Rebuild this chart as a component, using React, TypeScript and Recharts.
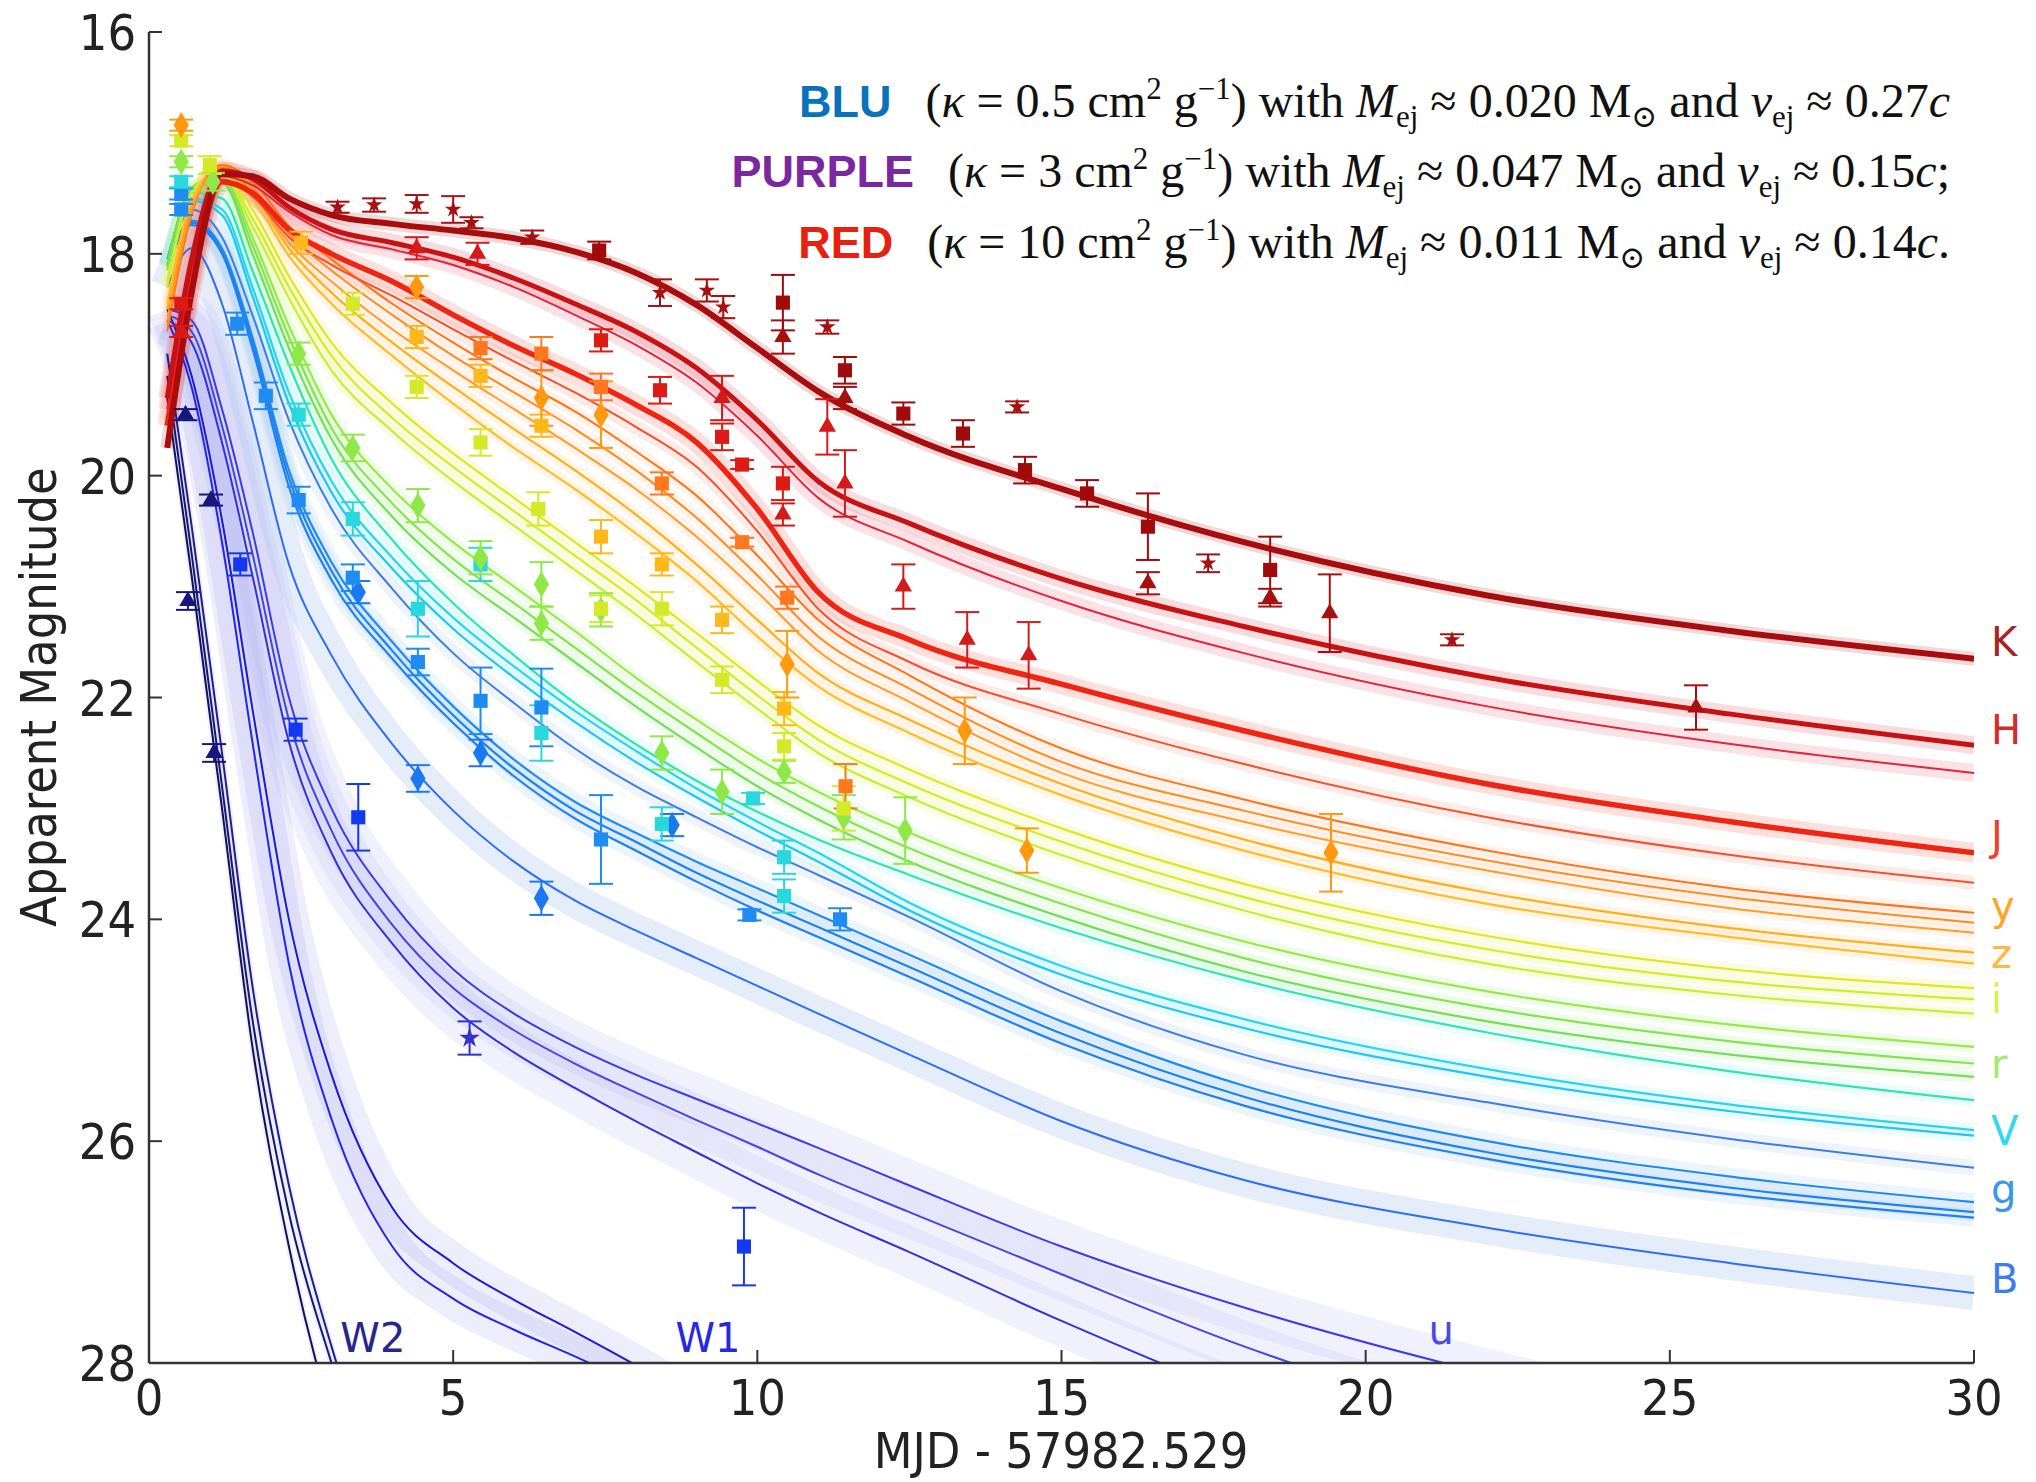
import React from 'react';
import { ComposedChart, Line, Scatter, XAxis, YAxis, ZAxis, ErrorBar, ReferenceDot } from 'recharts';

if (typeof document !== 'undefined') document.body.style.margin = '0';

const W = 2036;
const H = 1482;
const AXIS_FONT = "'DejaVu Sans Condensed', 'DejaVu Sans', sans-serif";
const SERIF = "'Liberation Serif', 'DejaVu Serif', serif";

// ---- model grid (days since merger) ----
const DAYS = [0.3, 0.7, 1.2, 1.7, 2.3, 3, 4, 5, 6, 7, 8, 9, 10, 11, 12.5, 15, 18, 22, 26, 30];
const X_TICKS = [0, 5, 10, 15, 20, 25, 30];
const Y_TICKS = [16, 18, 20, 22, 24, 26, 28];

// ---- model light curves (apparent magnitude on DAYS) ----
const K_MODEL = [19.75, 18.35, 17.28, 17.3, 17.5, 17.65, 17.73, 17.79, 17.86, 17.98, 18.17, 18.46, 18.85, 19.24, 19.65, 20.12, 20.6, 21.08, 21.4, 21.65];
const H_MODEL = [
  [19.3, 18.05, 17.25, 17.32, 17.58, 17.78, 17.9, 18.03, 18.22, 18.45, 18.7, 19.03, 19.5, 20.05, 20.43, 20.93, 21.36, 21.82, 22.15, 22.43],
  [19.4, 18.15, 17.3, 17.38, 17.62, 17.83, 17.96, 18.1, 18.3, 18.55, 18.82, 19.16, 19.64, 20.2, 20.6, 21.13, 21.6, 22.08, 22.42, 22.68],
];
const J_MODEL = [
  [19.55, 18.3, 17.35, 17.45, 17.78, 18.0, 18.25, 18.55, 18.83, 19.08, 19.36, 19.7, 20.3, 21.05, 21.48, 21.88, 22.3, 22.78, 23.12, 23.4],
  [19.5, 18.25, 17.33, 17.48, 17.85, 18.1, 18.38, 18.68, 18.97, 19.25, 19.56, 19.92, 20.5, 21.2, 21.68, 22.15, 22.6, 23.08, 23.42, 23.67],
];
const Y_MODEL = [
  [18.7, 17.65, 17.2, 17.35, 17.75, 18.05, 18.45, 18.8, 19.12, 19.42, 19.78, 20.18, 20.72, 21.3, 21.8, 22.46, 22.92, 23.38, 23.72, 23.94],
  [18.65, 17.62, 17.22, 17.4, 17.82, 18.15, 18.55, 18.92, 19.25, 19.58, 19.95, 20.38, 20.9, 21.45, 21.92, 22.58, 23.02, 23.47, 23.8, 24.03],
  [18.6, 17.6, 17.24, 17.45, 17.9, 18.25, 18.68, 19.05, 19.4, 19.75, 20.12, 20.55, 21.05, 21.58, 22.04, 22.68, 23.12, 23.56, 23.9, 24.12],
];
const Z_MODEL = [
  [18.5, 17.55, 17.2, 17.45, 17.95, 18.35, 18.8, 19.2, 19.58, 19.95, 20.35, 20.8, 21.3, 21.78, 22.2, 22.78, 23.28, 23.76, 24.08, 24.3],
  [18.45, 17.52, 17.22, 17.5, 18.02, 18.45, 18.92, 19.35, 19.75, 20.12, 20.52, 20.95, 21.45, 21.9, 22.32, 22.88, 23.38, 23.86, 24.16, 24.4],
];
const I_MODEL = [
  [18.3, 17.45, 17.25, 17.6, 18.2, 18.8, 19.35, 19.8, 20.2, 20.6, 21.0, 21.42, 21.85, 22.25, 22.65, 23.18, 23.68, 24.15, 24.45, 24.62],
  [18.28, 17.45, 17.28, 17.68, 18.3, 18.92, 19.48, 19.92, 20.32, 20.72, 21.12, 21.55, 21.98, 22.38, 22.78, 23.3, 23.8, 24.27, 24.56, 24.72],
  [18.25, 17.45, 17.3, 17.75, 18.4, 19.05, 19.6, 20.05, 20.45, 20.85, 21.25, 21.68, 22.1, 22.5, 22.9, 23.42, 23.92, 24.4, 24.68, 24.85],
];
const R_MODEL = [
  [18.15, 17.4, 17.3, 17.85, 18.65, 19.45, 20.12, 20.6, 21.0, 21.4, 21.82, 22.2, 22.55, 22.85, 23.22, 23.72, 24.2, 24.65, 24.95, 25.15],
  [18.12, 17.4, 17.33, 17.92, 18.75, 19.57, 20.25, 20.75, 21.15, 21.55, 21.95, 22.32, 22.68, 22.98, 23.36, 23.86, 24.35, 24.8, 25.1, 25.3],
  [18.1, 17.42, 17.36, 18.0, 18.85, 19.67, 20.37, 20.88, 21.28, 21.68, 22.08, 22.45, 22.8, 23.1, 23.48, 23.98, 24.47, 24.92, 25.22, 25.42],
];
const V_MODEL = [
  [18.1, 17.45, 17.5, 18.15, 19.0, 19.85, 20.58, 21.15, 21.62, 22.05, 22.42, 22.75, 23.03, 23.28, 23.6, 24.08, 24.55, 25.02, 25.37, 25.63],
  [18.05, 17.5, 17.6, 18.3, 19.25, 20.05, 20.74, 21.28, 21.72, 22.12, 22.48, 22.82, 23.12, 23.4, 23.85, 24.42, 24.9, 25.35, 25.67, 25.9],
  [18.05, 17.52, 17.65, 18.38, 19.35, 20.15, 20.84, 21.38, 21.82, 22.22, 22.58, 22.9, 23.2, 23.48, 23.92, 24.5, 24.98, 25.42, 25.73, 25.95],
];
const GB_MODEL = [18.1, 17.6, 17.85, 18.55, 19.5, 20.3, 21.02, 21.6, 22.05, 22.46, 22.8, 23.08, 23.35, 23.6, 23.98, 24.65, 25.22, 25.65, 25.98, 26.24];
const G_MODEL = [
  [18.1, 17.7, 17.95, 18.75, 19.95, 20.78, 21.5, 22.08, 22.56, 22.94, 23.22, 23.48, 23.72, 23.96, 24.32, 24.92, 25.5, 26.0, 26.32, 26.55],
  [18.1, 17.72, 17.98, 18.8, 20.02, 20.86, 21.58, 22.16, 22.64, 23.02, 23.3, 23.58, 23.83, 24.07, 24.43, 25.03, 25.6, 26.1, 26.42, 26.64],
  [18.12, 17.74, 18.0, 18.85, 20.1, 20.94, 21.65, 22.23, 22.71, 23.09, 23.38, 23.66, 23.92, 24.16, 24.52, 25.12, 25.68, 26.16, 26.48, 26.69],
];
const B_MODEL = [18.3, 17.95, 18.45, 19.5, 20.8, 21.62, 22.42, 23.02, 23.48, 23.83, 24.1, 24.35, 24.6, 24.85, 25.22, 25.82, 26.35, 26.78, 27.1, 27.37];
const U_MODEL = [
  [18.5, 18.6, 19.4, 20.5, 22.0, 23.0, 23.85, 24.45, 24.85, 25.15, 25.4, 25.62, 25.84, 26.06, 26.4, 26.95, 27.5, 28.1, 28.6, 29.0],
  [18.55, 18.7, 19.55, 20.7, 22.2, 23.2, 24.05, 24.62, 25.0, 25.3, 25.56, 25.81, 26.05, 26.3, 26.64, 27.2, 27.85, 28.55, 29.1],
  [18.6, 18.8, 19.7, 20.9, 22.4, 23.4, 24.22, 24.8, 25.2, 25.52, 25.82, 26.1, 26.38, 26.64, 27.0, 27.62, 28.3, 29.0],
];
const W1_MODEL = [
  [18.6, 19.2, 20.6, 22.4, 24.4, 25.8, 26.95, 27.42, 27.7, 27.94, 28.2, 28.5],
  [18.5, 19.1, 20.4, 22.1, 24.0, 25.4, 26.6, 27.1, 27.43, 27.72, 28.02, 28.35, 28.7],
];
const W2_MODEL = [
  [19.3, 20.9, 23.0, 25.15, 26.95, 28.5, 30.0],
  [19.1, 20.7, 22.8, 24.9, 26.65, 28.0, 29.6],
  [18.9, 20.45, 22.5, 24.6, 26.4, 27.85, 29.4],
];

// ---- photometry: [day, mag, error] ----
const K_STAR = [[3.1, 17.58, 0.05], [3.7, 17.56, 0.06], [4.4, 17.55, 0.08], [5.0, 17.6, 0.12], [5.3, 17.72, 0.05], [6.3, 17.85, 0.06], [8.4, 18.35, 0.12], [9.17, 18.33, 0.1], [9.44, 18.48, 0.1], [11.15, 18.66, 0.06], [14.27, 19.38, 0.05], [17.41, 20.79, 0.08], [21.42, 21.48, 0.05]];
const K_SQ = [[7.4, 17.97, 0.08], [10.42, 18.44, 0.25], [11.44, 19.05, 0.12], [12.4, 19.44, 0.1], [13.38, 19.62, 0.12], [14.4, 19.95, 0.12], [15.42, 20.16, 0.12], [16.42, 20.46, 0.3], [18.43, 20.85, 0.3]];
const K_TRI = [[10.42, 18.75, 0.15], [11.44, 19.3, 0.1], [16.42, 20.97, 0.1], [18.43, 21.1, 0.08], [19.41, 21.24, 0.35], [25.43, 22.09, 0.2]];
const H_SQ = [[0.53, 18.45, 0.05], [7.43, 18.78, 0.1], [8.4, 19.23, 0.12], [9.42, 19.65, 0.12], [10.42, 20.07, 0.15], [9.75, 19.9, 0.04]];
const H_TRI = [[0.53, 18.7, 0.05], [4.4, 17.95, 0.1], [5.4, 18.0, 0.1], [9.42, 19.3, 0.2], [10.42, 20.35, 0.1], [11.15, 19.56, 0.25], [11.44, 20.07, 0.3], [12.4, 21.0, 0.2], [13.45, 21.48, 0.25], [14.46, 21.62, 0.3]];
const Y_SQ = [[5.45, 18.85, 0.1], [6.45, 18.9, 0.15], [7.43, 19.2, 0.12], [8.43, 20.07, 0.1], [9.75, 20.6, 0.04], [10.49, 21.1, 0.1], [11.45, 22.8, 0.2]];
const Y_DIA = [[0.53, 16.84, 0.05], [4.4, 18.3, 0.1], [6.45, 19.3, 0.25], [7.43, 19.45, 0.3], [10.49, 21.7, 0.3], [13.41, 22.3, 0.3], [14.43, 23.38, 0.2], [19.43, 23.4, 0.35]];
const Z_SQ = [[2.5, 17.9, 0.1], [4.4, 18.75, 0.1], [5.45, 19.1, 0.1], [6.45, 19.55, 0.1], [7.43, 20.55, 0.15], [8.43, 20.8, 0.1], [9.42, 21.3, 0.12], [10.44, 22.1, 0.15]];
const I_SQ = [[0.53, 16.98, 0.05], [1.0, 17.2, 0.08], [3.35, 18.45, 0.1], [4.4, 19.2, 0.1], [5.45, 19.7, 0.12], [6.4, 20.3, 0.15], [7.43, 21.2, 0.12], [8.43, 21.2, 0.15], [9.42, 21.84, 0.12], [10.44, 22.44, 0.12], [11.42, 23.0, 0.2]];
const R_DIA = [[0.53, 17.17, 0.05], [1.05, 17.35, 0.08], [2.46, 18.9, 0.1], [3.35, 19.75, 0.12], [4.42, 20.27, 0.15], [5.45, 20.74, 0.15], [6.45, 20.98, 0.2], [6.45, 21.33, 0.15], [7.43, 21.21, 0.15], [8.43, 22.5, 0.15], [9.42, 22.85, 0.2], [10.44, 22.67, 0.1], [11.42, 23.08, 0.2], [12.43, 23.2, 0.3]];
const V_SQ = [[0.53, 17.35, 0.05], [2.46, 19.45, 0.1], [3.35, 20.39, 0.15], [4.42, 21.2, 0.25], [5.45, 20.8, 0.15], [6.45, 22.32, 0.25], [8.43, 23.14, 0.15], [9.93, 22.91, 0.05], [10.44, 23.44, 0.15], [10.44, 23.79, 0.15]];
const G_SQ = [[0.53, 17.46, 0.05], [0.53, 17.6, 0.05], [1.45, 18.63, 0.1], [1.92, 19.28, 0.12], [2.46, 20.22, 0.12], [3.35, 20.92, 0.12], [4.42, 21.68, 0.12], [5.45, 22.03, 0.3], [6.45, 22.09, 0.35], [7.43, 23.28, 0.4], [9.87, 23.96, 0.05], [11.36, 24.0, 0.1]];
const G_DIA = [[3.44, 21.05, 0.1], [4.42, 22.73, 0.12], [5.45, 22.5, 0.12], [6.45, 23.81, 0.15], [8.6, 23.15, 0.1]];
const B_SQ = [[1.5, 20.8, 0.1], [2.41, 22.29, 0.1], [3.44, 23.08, 0.3], [9.78, 26.95, 0.35]];
const U_STAR = [[5.27, 25.07, 0.15]];
const W2_TRI = [[0.6, 19.45, 0.05], [0.64, 21.13, 0.08], [1.02, 20.22, 0.05], [1.07, 22.5, 0.08]];

// ---- band labels ----
const BAND_NAMES = ['K', 'H', 'J', 'y', 'z', 'i', 'r', 'V', 'g', 'B'];
const BAND_MAGS = [21.5, 22.29, 23.25, 23.88, 24.31, 24.72, 25.3, 25.91, 26.43, 27.24];
const BAND_COLORS = ['#AA2424', '#D42C2C', '#F0402E', '#FFA424', '#FFB848', '#D8EE5C', '#A8E870', '#30D8F0', '#3A96F0', '#3C7CF0'];
const UV_NAMES = ['W2', 'W1', 'u'];
const UV_DAYS = [3.68, 9.19, 21.24];
const UV_MAGS = [27.77, 27.77, 27.7];
const UV_COLORS = ['#26268C', '#2828E0', '#4A4AE6'];

type Model = { key: string; vals: number[]; color: string; width: number; halo: string; haloW: number; haloOp: number };

// drawn bottom (blue) to top (red)
const MODELS: Model[] = [
  ...W2_MODEL.map((v, i) => ({ key: `w2${i}`, vals: v, color: ['#10105E', '#16167A', '#1E1E92'][i], width: 2, halo: '#8080c0', haloW: 6, haloOp: 0.12 })),
  ...W1_MODEL.map((v, i) => ({ key: `w1${i}`, vals: v, color: ['#2424EE', '#1C1CD0'][i], width: 2, halo: '#9c9cf0', haloW: 40, haloOp: 0.18 })),
  ...U_MODEL.map((v, i) => ({ key: `u${i}`, vals: v, color: ['#3C3CE6', '#4646DC', '#3232D8'][i], width: 2, halo: '#a8a8f0', haloW: 50, haloOp: 0.16 })),
  { key: 'b', vals: B_MODEL, color: '#2E6EF2', width: 2, halo: '#a8c4ee', haloW: 34, haloOp: 0.3 },
  ...G_MODEL.map((v, i) => ({ key: `g${i}`, vals: v, color: ['#1E8CF5', '#1A84EE', '#2080F0'][i], width: 2.2, halo: '#a8ccf4', haloW: 18, haloOp: 0.22 })),
  { key: 'gb', vals: GB_MODEL, color: '#3A7EE6', width: 2, halo: '#b0c8f0', haloW: 16, haloOp: 0.22 },
  ...V_MODEL.map((v, i) => ({ key: `v${i}`, vals: v, color: ['#2EE6A8', '#28D4EE', '#22C4F2'][i], width: 2.2, halo: '#a8f0f0', haloW: 14, haloOp: 0.22 })),
  ...R_MODEL.map((v, i) => ({ key: `r${i}`, vals: v, color: ['#98EA40', '#84E450', '#72DE5C'][i], width: 2.2, halo: '#c4f4b0', haloW: 12, haloOp: 0.25 })),
  ...I_MODEL.map((v, i) => ({ key: `i${i}`, vals: v, color: ['#E0E622', '#D2EC26', '#C6EE34'][i], width: 2.2, halo: '#eef4a0', haloW: 12, haloOp: 0.3 })),
  ...Z_MODEL.map((v, i) => ({ key: `z${i}`, vals: v, color: ['#FFAE1A', '#FFBC24'][i], width: 2.2, halo: '#ffd8a0', haloW: 12, haloOp: 0.25 })),
  ...Y_MODEL.map((v, i) => ({ key: `y${i}`, vals: v, color: ['#FF7418', '#FF8A1E', '#FF9C22'][i], width: 2, halo: '#ffc8a8', haloW: 12, haloOp: 0.22 })),
  { key: 'j1', vals: J_MODEL[1], color: '#F4502A', width: 2, halo: '#f8b0a0', haloW: 14, haloOp: 0.25 },
  { key: 'j0', vals: J_MODEL[0], color: '#F02412', width: 5.5, halo: '#f47060', haloW: 20, haloOp: 0.22 },
  { key: 'h1', vals: H_MODEL[1], color: '#E42438', width: 2, halo: '#f0a0b0', haloW: 18, haloOp: 0.3 },
  { key: 'h0', vals: H_MODEL[0], color: '#C81212', width: 5, halo: '#e06070', haloW: 18, haloOp: 0.22 },
  { key: 'k', vals: K_MODEL, color: '#A80C0C', width: 6, halo: '#c04040', haloW: 14, haloOp: 0.2 },
];

const ROWS = DAYS.map((d, i) => {
  const row: Record<string, number | null> = { day: d };
  MODELS.forEach((m) => { row[m.key] = m.vals[i] ?? null; });
  return row;
});

const toPts = (arr: number[][]) => arr.map(([day, mag, err]) => ({ day, mag, err }));

const SCATTERS = [
  { id: 'w2', pts: W2_TRI, color: '#16167E', shape: 'triangle', z: 'm' },
  { id: 'bsq', pts: B_SQ, color: '#1438F0', shape: 'square', z: 'l' },
  { id: 'ust', pts: U_STAR, color: '#3434C8', shape: 'star', z: 'm' },
  { id: 'gdi', pts: G_DIA, color: '#1A78F0', shape: 'diamond', z: 'l' },
  { id: 'gsq', pts: G_SQ, color: '#1E8CF0', shape: 'square', z: 'l' },
  { id: 'vsq', pts: V_SQ, color: '#28D8DC', shape: 'square', z: 'l' },
  { id: 'rdi', pts: R_DIA, color: '#8EE848', shape: 'diamond', z: 'l' },
  { id: 'isq', pts: I_SQ, color: '#D4EA28', shape: 'square', z: 'l' },
  { id: 'zsq', pts: Z_SQ, color: '#FFB81A', shape: 'square', z: 'l' },
  { id: 'ydi', pts: Y_DIA, color: '#FF9A10', shape: 'diamond', z: 'l' },
  { id: 'ysq', pts: Y_SQ, color: '#FF7820', shape: 'square', z: 'l' },
  { id: 'htr', pts: H_TRI, color: '#D41A1A', shape: 'triangle', z: 'm' },
  { id: 'hsq', pts: H_SQ, color: '#DC1C14', shape: 'square', z: 'l' },
  { id: 'ktr', pts: K_TRI, color: '#A51010', shape: 'triangle', z: 'm' },
  { id: 'ksq', pts: K_SQ, color: '#A00A0A', shape: 'square', z: 'l' },
  { id: 'kst', pts: K_STAR, color: '#A51010', shape: 'star', z: 's' },
];

const TICK_LEN = 13;
const FRAME = { stroke: '#333', strokeWidth: 2.5 };

const BottomTick = (p: any) => (
  <g>
    <line x1={p.x} y1={p.y} x2={p.x} y2={p.y - TICK_LEN} stroke="#333" strokeWidth={2} />
    <text x={p.x} y={p.y + 52} textAnchor="middle" fontSize={50} fontFamily={AXIS_FONT} fill="#222">{p.payload.value}</text>
  </g>
);
const LeftTick = (p: any) => (
  <g>
    <line x1={p.x} y1={p.y} x2={p.x + TICK_LEN} y2={p.y} stroke="#333" strokeWidth={2} />
    <text x={p.x - 13} y={p.y} dy="0.36em" textAnchor="end" fontSize={50} fontFamily={AXIS_FONT} fill="#222">{p.payload.value}</text>
  </g>
);
const TopTick = (p: any) => <line x1={p.x} y1={p.y} x2={p.x} y2={p.y + TICK_LEN} stroke="#333" strokeWidth={2} />;
const RightTick = (p: any) => <line x1={p.x} y1={p.y} x2={p.x - TICK_LEN} y2={p.y} stroke="#333" strokeWidth={2} />;

// annotation: segments with optional super/subscript shift
type Seg = { t: string; s?: 'sup' | 'sub'; i?: boolean };
const SHIFT = { sup: -18, sub: 10 };

const annSegs = (kappa: string, mass: string, vel: string, end: string): Seg[] => [
  { t: '(' }, { t: 'κ', i: true }, { t: ` = ${kappa} cm` }, { t: '2', s: 'sup' }, { t: ' g' }, { t: '−1', s: 'sup' },
  { t: ') with ' }, { t: 'M', i: true }, { t: 'ej', s: 'sub' }, { t: ` ≈ ${mass} M` }, { t: '⊙', s: 'sub' },
  { t: ' and ' }, { t: 'v', i: true }, { t: 'ej', s: 'sub' }, { t: ` ≈ ${vel}` }, { t: 'c', i: true }, ...(end ? [{ t: end }] : []),
];

const AnnLine = ({ y, label, color, segs }: { y: number; label: string; color: string; segs: Seg[] }) => {
  let prev = 0;
  return (
    <text x={1950} y={y} textAnchor="end" fontSize={48} fontFamily={SERIF} fill="#111" style={{ whiteSpace: 'pre' }}>
      <tspan fontFamily="'Liberation Sans', Arial, sans-serif" fontWeight="bold" fontSize={45} fill={color}>{label}</tspan>
      {segs.map((g, k) => {
        const sh = g.s ? SHIFT[g.s] : 0;
        const dy = sh - prev;
        prev = sh;
        return (
          <tspan key={k} dx={k === 0 ? 34 : undefined} dy={dy !== 0 ? dy : undefined}
            fontSize={g.s ? 31 : undefined} fontStyle={g.i ? 'italic' : undefined}>{g.t}</tspan>
        );
      })}
    </text>
  );
};

export default function App() {
  return (
    <div style={{ position: 'relative', width: W, height: H, background: '#fff' }}>
      <ComposedChart width={W} height={H} data={ROWS} margin={{ top: 32, right: 62, bottom: 0, left: 0 }}>
        <XAxis dataKey="day" type="number" domain={[0, 30]} ticks={X_TICKS} interval={0} allowDataOverflow
          height={119} tickSize={0} tickMargin={0} tickLine={false} axisLine={FRAME} tick={<BottomTick />} />
        <XAxis xAxisId="top" dataKey="day" orientation="top" type="number" domain={[0, 30]} ticks={X_TICKS} interval={0}
          allowDataOverflow height={0} tickSize={0} tickMargin={0} tickLine={false} axisLine={FRAME} tick={<TopTick />} />
        <YAxis type="number" domain={[16, 28]} reversed ticks={Y_TICKS} interval={0} allowDataOverflow
          width={149} tickSize={0} tickMargin={0} tickLine={false} axisLine={FRAME} tick={<LeftTick />} />
        <YAxis yAxisId="right" orientation="right" type="number" domain={[16, 28]} reversed ticks={Y_TICKS} interval={0}
          allowDataOverflow width={0} tickSize={0} tickMargin={0} tickLine={false} axisLine={FRAME} tick={<RightTick />} />
        <ZAxis zAxisId="l" range={[200, 200]} />
        <ZAxis zAxisId="m" range={[130, 130]} />
        <ZAxis zAxisId="s" range={[85, 85]} />

        {MODELS.map((m) => (
          <Line key={`${m.key}-halo`} type="monotone" dataKey={m.key} stroke={m.halo} strokeWidth={m.haloW}
            strokeOpacity={m.haloOp} dot={false} activeDot={false} isAnimationActive={false} strokeLinecap="butt" />
        ))}
        {MODELS.map((m) => (
          <Line key={m.key} type="monotone" dataKey={m.key} stroke={m.color} strokeWidth={m.width}
            dot={false} activeDot={false} isAnimationActive={false} />
        ))}

        {SCATTERS.map((s) => (
          <Scatter key={s.id} data={toPts(s.pts)} dataKey="mag" zAxisId={s.z} shape={s.shape as any} fill={s.color}
            isAnimationActive={false}>
            <ErrorBar dataKey="err" direction="y" width={12} stroke={s.color} strokeWidth={2} isAnimationActive={false} />
          </Scatter>
        ))}

        {BAND_NAMES.map((b, i) => (
          <ReferenceDot key={b} x={30} y={BAND_MAGS[i]} r={1} fill="none" stroke="none" ifOverflow="visible"
            label={{ value: b, position: 'right', offset: 16, fill: BAND_COLORS[i], fontSize: 40, fontFamily: 'DejaVu Sans' }} />
        ))}
        {UV_NAMES.map((b, i) => (
          <ReferenceDot key={b} x={UV_DAYS[i]} y={UV_MAGS[i]} r={1} fill="none" stroke="none" ifOverflow="visible"
            label={{ value: b, position: 'center', fill: UV_COLORS[i], fontSize: 40, fontFamily: 'DejaVu Sans' }} />
        ))}
      </ComposedChart>

      <svg width={W} height={H} style={{ position: 'absolute', left: 0, top: 0, pointerEvents: 'none' }}>
        <text transform="translate(56,697) rotate(-90)" textAnchor="middle" fontSize={50} fontFamily={AXIS_FONT} fill="#222">
          Apparent Magnitude
        </text>
        <text x={1061} y={1468} textAnchor="middle" fontSize={50} fontFamily={AXIS_FONT} fill="#222">MJD - 57982.529</text>
        <AnnLine y={117} label="BLU" color="#0A72BA" segs={annSegs('0.5', '0.020', '0.27', '')} />
        <AnnLine y={187} label="PURPLE" color="#7B28A0" segs={annSegs('3', '0.047', '0.15', ';')} />
        <AnnLine y={258} label="RED" color="#E82010" segs={annSegs('10', '0.011', '0.14', '.')} />
      </svg>
    </div>
  );
}
